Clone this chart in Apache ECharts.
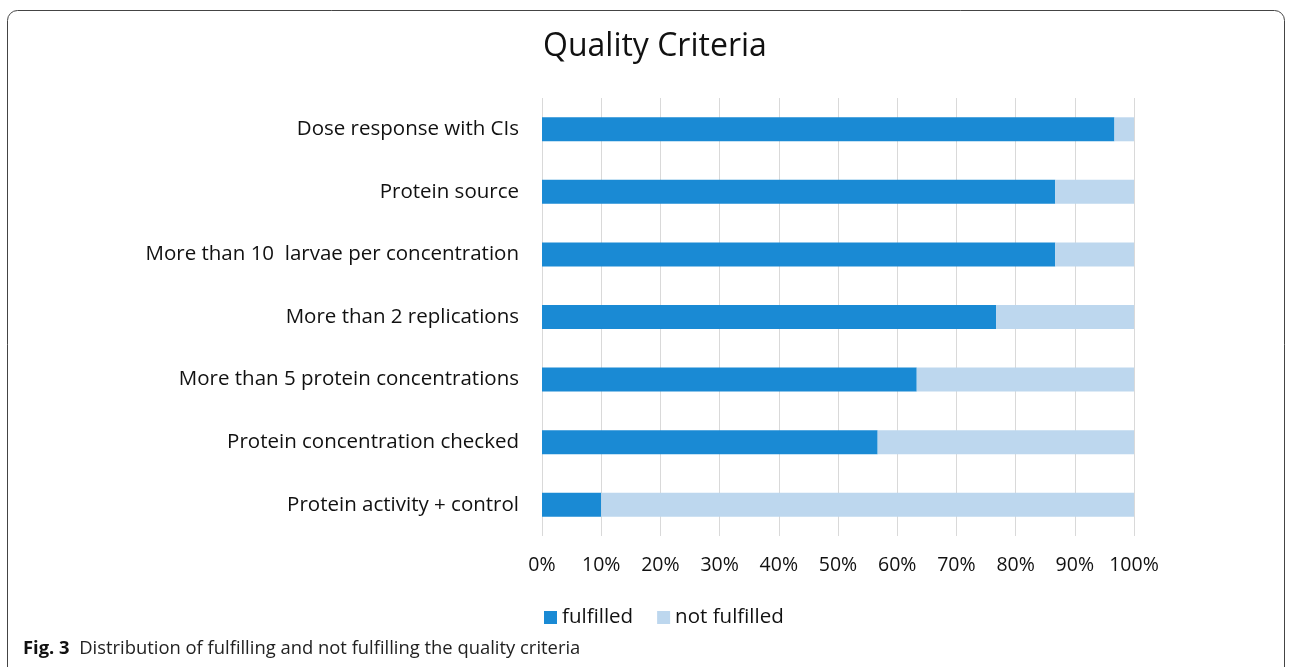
<!DOCTYPE html>
<html>
<head>
<meta charset="utf-8">
<script src="https://cdn.jsdelivr.net/npm/echarts@6/dist/echarts.min.js"></script>
<style>
  html, body { margin: 0; padding: 0; background: #fff; }
  #chart { width: 1292px; height: 667px; }
</style>
</head>
<body>
<div id="chart"></div>
<script>
// criteria, top to bottom
var categories = [
  'Dose response with CIs',
  'Protein source',
  'More than 10  larvae per concentration',
  'More than 2 replications',
  'More than 5 protein concentrations',
  'Protein concentration checked',
  'Protein activity + control'
];
var fulfilled = [96.7, 86.7, 86.7, 76.7, 63.3, 56.7, 10];
var notFulfilled = [3.3, 13.3, 13.3, 23.3, 36.7, 43.3, 90];
var xTicks = [0, 10, 20, 30, 40, 50, 60, 70, 80, 90, 100];

var font = 'Open Sans';
var chart = echarts.init(document.getElementById('chart'));

var option = {
  animation: false,
  title: {
    text: 'Quality Criteria',
    left: 538,
    top: 26,
    textStyle: { fontFamily: font, fontSize: 32, fontWeight: 'normal', color: '#111' }
  },
  legend: {
    data: ['fulfilled', 'not fulfilled'],
    bottom: 34,
    left: 539,
    itemWidth: 13,
    itemHeight: 13,
    itemGap: 24,
    icon: 'rect',
    textStyle: { fontFamily: font, fontSize: 20.5, color: '#111' }
  },
  grid: { left: 542, right: 158, top: 98, bottom: 131 },
  xAxis: {
    type: 'value',
    min: 0,
    max: 100,
    interval: 10,
    axisLine: { show: false },
    axisTick: { show: false },
    splitLine: { lineStyle: { color: '#d9d9d9', width: 1 } },
    axisLabel: {
      margin: 19,
      fontFamily: font,
      fontSize: 19.5,
      color: '#111',
      formatter: function (v) { return xTicks.indexOf(v) >= 0 ? v + '%' : ''; }
    }
  },
  yAxis: {
    type: 'category',
    data: categories,
    inverse: true,
    axisLine: { show: false },
    axisTick: { show: false },
    axisLabel: { margin: 23, fontFamily: font, fontSize: 20.5, color: '#111' }
  },
  series: [
    {
      name: 'fulfilled',
      type: 'bar',
      stack: 'total',
      data: fulfilled,
      barWidth: 24,
      itemStyle: { color: '#1a8ad4' }
    },
    {
      name: 'not fulfilled',
      type: 'bar',
      stack: 'total',
      data: notFulfilled,
      barWidth: 24,
      itemStyle: { color: '#bdd7ee' }
    }
  ],
  graphic: [
    {
      type: 'rect',
      shape: { x: 7.5, y: 10.5, width: 1277, height: 680, r: 10 },
      style: { fill: 'none', stroke: '#444', lineWidth: 1 },
      silent: true
    },
    {
      type: 'text',
      left: 23,
      top: 640,
      style: {
        text: '{b|Fig. 3}  Distribution of fulfilling and not fulfilling the quality criteria',
        rich: {
          b: { fontFamily: font, fontSize: 18.4, fontWeight: 'bold', fill: '#111' }
        },
        fontFamily: font,
        fontSize: 18.4,
        fill: '#222'
      }
    }
  ]
};

chart.setOption(option);
</script>
</body>
</html>
